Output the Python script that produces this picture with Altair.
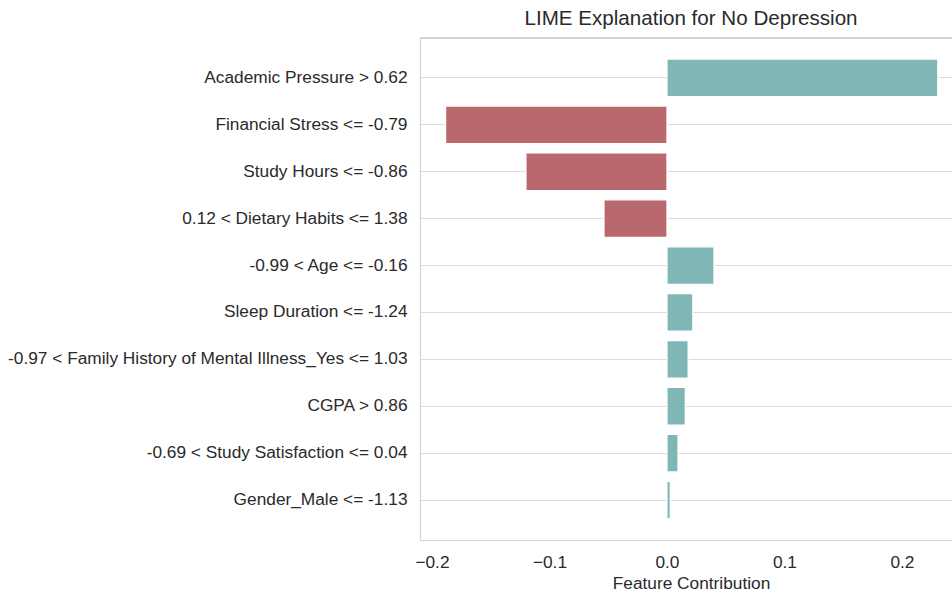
import altair as alt
import pandas as pd

# LIME feature rules and their contributions toward the "No Depression" class
features = [
    "Academic Pressure > 0.62",
    "Financial Stress <= -0.79",
    "Study Hours <= -0.86",
    "0.12 < Dietary Habits <= 1.38",
    "-0.99 < Age <= -0.16",
    "Sleep Duration <= -1.24",
    "-0.97 < Family History of Mental Illness_Yes <= 1.03",
    "CGPA > 0.86",
    "-0.69 < Study Satisfaction <= 0.04",
    "Gender_Male <= -1.13",
]
contributions = [0.2305, -0.1884, -0.1200, -0.0536, 0.0400, 0.0220, 0.0180, 0.0156, 0.0094, 0.0028]
x_ticks = [-0.2, -0.1, 0.0, 0.1, 0.2]

df = pd.DataFrame({"feature": features, "contribution": contributions})
df["direction"] = ["positive" if v > 0 else "negative" for v in contributions]

W, H = 532, 502
FONT = "Liberation Sans"
TEXT = "#2a2a2a"
LINE = "#d3d3d3"

x_scale = alt.Scale(domain=[-0.2102, 0.2426], nice=False, zero=False)

bars = alt.Chart(df).mark_bar(stroke="white", strokeWidth=1.2).encode(
    x=alt.X(
        "contribution:Q",
        scale=x_scale,
        axis=alt.Axis(
            values=x_ticks,
            format=".1f",
            labelExpr="replace(datum.label, '-', '\u2212')",
            grid=False,
            ticks=False,
            domainColor=LINE,
            domainWidth=1.2,
            labelPadding=13,
            labelFontSize=17.3,
            labelColor=TEXT,
            labelFont=FONT,
            title="Feature Contribution",
            titleFont=FONT,
            titleFontSize=17.3,
            titleFontWeight="normal",
            titleColor=TEXT,
            titlePadding=4,
            titleX=271,
        ),
    ),
    y=alt.Y(
        "feature:N",
        sort=features,
        scale=alt.Scale(paddingInner=0.2, paddingOuter=0.45),
        axis=alt.Axis(
            title=None,
            grid=True,
            gridColor="#dcdcdc",
            gridWidth=1.2,
            tickBand="center",
            ticks=False,
            domainColor=LINE,
            domainWidth=1.2,
            labelPadding=13,
            labelFontSize=17.3,
            labelColor=TEXT,
            labelFont=FONT,
            labelLimit=600,
        ),
    ),
    color=alt.Color(
        "direction:N",
        scale=alt.Scale(domain=["positive", "negative"], range=["#7fb7b7", "#b9696e"]),
        legend=None,
    ),
)

# top frame line of the plot area
top_edge = alt.Chart(df).mark_rule(color=LINE, strokeWidth=1.2).encode(
    x=alt.value(0), x2=alt.value(W), y=alt.value(0)
)

chart = (
    alt.layer(top_edge, bars)
    .properties(
        width=W,
        height=H,
        title=alt.TitleParams(
            "LIME Explanation for No Depression",
            font=FONT,
            fontSize=20.6,
            fontWeight="normal",
            color=TEXT,
            anchor="middle",
            dx=5,
            offset=8,
        ),
        autosize=alt.AutoSizeParams(type="none"),
        padding={"left": 420, "top": 38, "right": 0, "bottom": 54},
    )
    .configure_view(stroke=None)
    .configure(background="white")
)

chart.save("out.html", embed_options={"renderer": "svg", "actions": False})
